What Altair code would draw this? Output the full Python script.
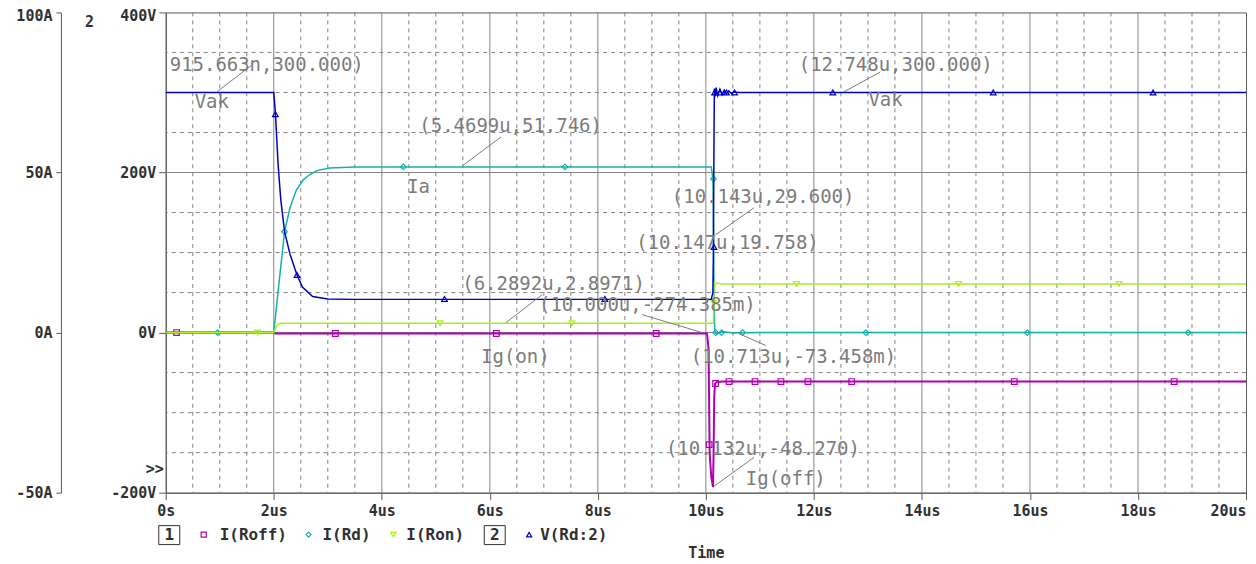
import altair as alt
import pandas as pd

# ---------------- data (time in us) ----------------
# V(Rd:2)  [V]
vrd_t = [0, 2.0, 2.03, 2.08, 2.13, 2.2, 2.3, 2.43, 2.53, 2.72, 3.0, 3.5, 10.10, 10.13, 10.138,
         10.143, 10.147, 10.152, 10.158, 10.17, 10.19, 10.22, 10.26, 10.30, 10.34, 10.38, 10.42,
         10.47, 10.52, 10.6, 20]
vrd_v = [300, 300, 275, 210, 166, 126, 98, 72, 57, 45, 42, 41.5, 41.5, 50, 90,
         150, 200, 260, 305, 295, 306, 296, 304, 297, 303, 298, 302,
         299, 301, 300, 300]
# I(Rd)  [A]
ird_t = [0, 2.0, 2.05, 2.1, 2.2, 2.3, 2.42, 2.55, 2.66, 2.8, 3.03, 3.5, 10.10, 10.13, 10.143,
         10.147, 10.155, 10.165, 10.2, 10.3, 10.5, 10.713, 11.0, 20]
ird_v = [0, 0, 8, 16, 31.5, 39, 44.6, 47.8, 49.3, 50.6, 51.4, 51.746, 51.746, 48, 29.6,
         19.758, 6, 0.4, -0.5, 0.3, -0.1, -0.073, 0, 0]
# I(Ron)  [A]
iron_t = [0, 2.0, 2.03, 2.06, 2.12, 10.12, 10.14, 10.15, 10.16, 10.2, 10.3, 20]
iron_v = [0, 0, 1.2, 2.3, 2.8971, 2.8971, 3.0, 15.8, 14.6, 15.5, 15.2, 15.2]
# I(Roff)  [A]
iroff_t = [0, 2.0, 2.03, 10.02, 10.05, 10.07, 10.10, 10.132, 10.142, 10.155, 10.17, 10.2, 10.3, 20]
iroff_v = [0, 0, -0.274, -0.274385, -5, -38, -45, -48.27, -38, -20, -15.9, -15.5, -15.3, -15.3]

# marker samples
mk_vrd_t = [2.03, 2.43, 5.16, 8.13, 10.15, 10.16, 10.26, 10.38, 10.53, 12.35, 15.32, 18.28]
mk_vrd_v = [273, 72, 42, 42, 107, 300, 300, 300, 300, 300, 300, 300]
mk_ird_t = [0.96, 2.2, 4.4, 7.39, 10.14, 10.18, 10.29, 10.68, 12.96, 15.95, 18.93]
mk_ird_v = [0, 31.5, 51.746, 51.746, 48, 0, 0, 0, 0, 0, 0]
mk_iron_t = [1.70, 5.08, 7.52, 10.148, 11.68, 14.68, 17.65]
mk_iron_v = [0, 2.8971, 2.8971, 9.3, 15.2, 15.2, 15.2]
mk_iroff_t = [0.2, 3.14, 6.12, 9.08, 10.06, 10.18, 10.43, 10.91, 11.39, 11.89, 12.7, 15.71, 18.67]
mk_iroff_v = [0, -0.274, -0.274, -0.274, -35, -15.9, -15.3, -15.3, -15.3, -15.3, -15.3, -15.3, -15.3]

# axis ticks / grid
x_ticks = [0, 2, 4, 6, 8, 10, 12, 14, 16, 18, 20]
v_ticks = [-200, 0, 200, 400]
a_ticks = [-50, 0, 50, 100]
grid_t_major = [2, 4, 6, 8, 10, 12, 14, 16, 18]
grid_t_minor = [k / 2 for k in range(1, 40) if k % 4 != 0]
grid_v_major = [0, 200]
grid_v_minor = [-150, -100, -50, 50, 100, 150, 250, 300, 350]

# probe annotations (time us, volts-axis value)
ann_label = ["915.663n,300.000)", "Vak", "(5.4699u,51.746)", "Ia", "(10.143u,29.600)",
             "(10.147u,19.758)", "(6.2892u,2.8971)", "(10.000u,-274.385m)", "Ig(on)",
             "(10.713u,-73.458m)", "(10.132u,-48.270)", "Ig(off)", "(12.748u,300.000)", "Vak"]
ann_t = [0.074, 0.536, 4.695, 4.47, 9.37, 8.71, 5.49, 6.91, 5.84, 9.72, 9.26, 10.74, 11.72, 13.01]
ann_v = [334, 288, 258, 182, 170, 112, 61, 34, -30, -31, -146, -183, 334, 291]
lead_t1 = [1.59, 6.21, 10.89, 6.97, 8.82, 11.11, 10.89, 13.23]
lead_v1 = [334, 244.5, 155.9, 47.4, 22.5, -16.2, -156, 325.6]
lead_t2 = [0.943, 5.49, 10.18, 6.30, 9.93, 10.61, 10.15, 12.55]
lead_v2 = [300.6, 208.3, 122.2, 12.5, 0, -1.25, -192, 300.6]

# ---------------- styling ----------------
MONO = "DejaVu Sans Mono"
GRID = "#858585"
AXC = "#5a5a5a"
LBL = "#303030"
ANN = "#7c7c7c"
BLUE = "#0000c0"
CYAN = "#14b0b0"
GREEN = "#aaee22"
MAG = "#b000b0"

xscale = alt.Scale(domain=[0, 20], nice=False, zero=False)
vscale = alt.Scale(domain=[-200, 400], nice=False, zero=False)
ascale = alt.Scale(domain=[-50, 100], nice=False, zero=False)

common = dict(labelFont=MONO, labelFontWeight="bold", labelFontSize=15, labelColor=LBL,
              domainColor=AXC, tickColor=AXC, grid=False)

x_axis = alt.Axis(values=x_ticks, labelExpr="datum.value == 0 ? '0s' : datum.value + 'us'",
                  title="Time", tickSize=7, labelPadding=4, labelFlush=False,
                  labelAlign={"condition": {"test": "datum.value == 20", "value": "right"},
                              "value": "center"},
                  titleFont=MONO, titleFontWeight="bold", titleFontSize=15, titleColor=LBL,
                  titleY=60, titleBaseline="middle", **common)
v_axis = alt.Axis(values=v_ticks, labelExpr="datum.value + 'V'", title=None,
                  tickSize=7, labelPadding=3, orient="left",
                  labelOffset={"condition": {"test": "datum.value == 400", "value": 3}, "value": 0},
                  **common)
a_axis = alt.Axis(values=a_ticks, labelExpr="datum.value + 'A'", title=None,
                  tickSize=5, labelPadding=4, orient="left", offset=105,
                  labelOffset={"condition": {"test": "datum.value == 100", "value": 3}, "value": 0},
                  **common)


def X(f):
    return alt.X(f"{f}:Q", scale=xscale, axis=x_axis)


def YV(f, axis=True):
    return alt.Y(f"{f}:Q", scale=vscale, axis=v_axis if axis else None)


def YA(f):
    return alt.Y(f"{f}:Q", scale=ascale, axis=a_axis)


one = pd.DataFrame({"d": [0]})

# ---------------- grid group ----------------
g1 = alt.Chart(pd.DataFrame({"t": grid_t_minor})).mark_rule(
    color=GRID, strokeDash=[4, 4], strokeWidth=1).encode(x=X("t"))
g2 = alt.Chart(pd.DataFrame({"t": grid_t_major})).mark_rule(
    color=GRID, strokeWidth=1).encode(x=X("t"))
g3 = alt.Chart(pd.DataFrame({"v": grid_v_minor})).mark_rule(
    color=GRID, strokeDash=[4, 4], strokeWidth=1).encode(y=YV("v", axis=False))
g4 = alt.Chart(pd.DataFrame({"v": grid_v_major})).mark_rule(
    color=GRID, strokeWidth=1).encode(y=YV("v", axis=False))
grid_group = alt.layer(g1, g2, g3, g4)

# ---------------- current group ----------------
def cur_layers(t, v, mt, mv, color, shape, sw=1.5):
    line = alt.Chart(pd.DataFrame({"t": t, "v": v})).mark_line(
        color=color, strokeWidth=sw).encode(x=X("t"), y=YA("v"))
    pts = alt.Chart(pd.DataFrame({"t": mt, "v": mv})).mark_point(
        shape=shape, filled=False, color=color, size=32, strokeWidth=1.2, opacity=1).encode(
        x=X("t"), y=YA("v"))
    return [line, pts]

cur_group = alt.layer(
    *cur_layers(iroff_t, iroff_v, mk_iroff_t, mk_iroff_v, MAG, "square", 2),
    *cur_layers(ird_t, ird_v, mk_ird_t, mk_ird_v, CYAN, "diamond"),
    *cur_layers(iron_t, iron_v, mk_iron_t, mk_iron_v, GREEN, "triangle-down"),
)

# ---------------- voltage group + annotations ----------------
vline = alt.Chart(pd.DataFrame({"t": vrd_t, "v": vrd_v})).mark_line(
    color=BLUE, strokeWidth=1.5).encode(x=X("t"), y=YV("v"))
vpts = alt.Chart(pd.DataFrame({"t": mk_vrd_t, "v": mk_vrd_v})).mark_point(
    shape="triangle-up", filled=False, color=BLUE, size=32, strokeWidth=1.2, opacity=1).encode(
    x=X("t"), y=YV("v"))
leads = alt.Chart(pd.DataFrame({"t1": lead_t1, "v1": lead_v1, "t2": lead_t2, "v2": lead_v2})).mark_rule(
    color=ANN, strokeWidth=1).encode(x=X("t1"), x2="t2", y=YV("v1"), y2="v2")
anns = alt.Chart(pd.DataFrame({"t": ann_t, "v": ann_v, "s": ann_label})).mark_text(
    align="left", baseline="middle", font=MONO, fontSize=19, color=ANN).encode(
    x=X("t"), y=YV("v"), text="s:N")

extra = []


def txt(s, x, y, align="left", size=15):
    return alt.Chart(pd.DataFrame({"s": [s]})).mark_text(
        align=align, baseline="middle", font=MONO, fontSize=size, fontWeight="bold",
        color=LBL).encode(x=alt.value(x), y=alt.value(y), text="s:N")


def sym(shape, color, x, y):
    return alt.Chart(one).mark_point(shape=shape, filled=False, color=color, size=26,
                                     strokeWidth=1.2, opacity=1).encode(
        x=alt.value(x), y=alt.value(y))


def box(x1, x2, y1, y2):
    return alt.Chart(one).mark_rect(fillOpacity=0, stroke=LBL, strokeWidth=1).encode(
        x=alt.value(x1), x2=alt.value(x2), y=alt.value(y1), y2=alt.value(y2))

LY = 523
extra += [
    txt("2", -81, 10),
    txt(">>", -20, 457),
    box(-7, 14, 514, 533), txt("1", 3.5, LY, align="center", size=16),
    sym("square", MAG, 38, LY), txt("I(Roff)", 54, LY, size=16),
    sym("diamond", CYAN, 143, LY), txt("I(Rd)", 157, LY, size=16),
    sym("triangle-down", GREEN, 228, LY), txt("I(Ron)", 241, LY, size=16),
    box(319, 340, 514, 533), txt("2", 329.5, LY, align="center", size=16),
    sym("triangle-up", BLUE, 364, LY), txt("V(Rd:2)", 375, LY, size=16),
]

volt_group = alt.layer(vline, vpts, leads, anns, *extra)

chart = alt.layer(grid_group, cur_group, volt_group).resolve_scale(y="independent").properties(
    width=1082, height=481,
    background="white",
    autosize=alt.AutoSizeParams(type="none"),
    padding={"left": 158, "top": 4, "right": 2, "bottom": 68},
).configure_view(stroke=AXC, strokeWidth=1)

chart.save("out.html", embed_options={"renderer": "svg", "actions": False})
